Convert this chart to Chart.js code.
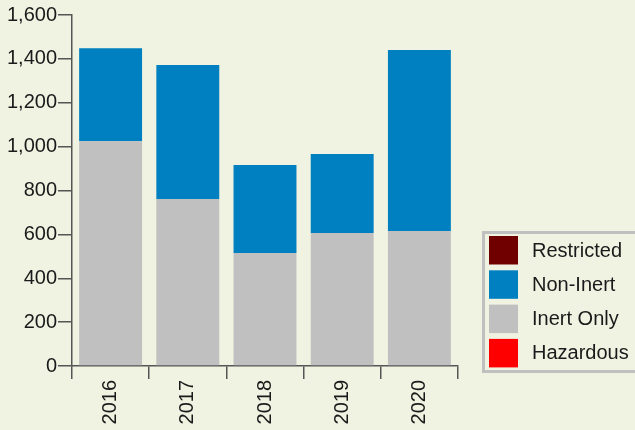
<!DOCTYPE html>
<html>
<head>
<meta charset="utf-8">
<script src="https://cdn.jsdelivr.net/npm/chart.js@4/dist/chart.umd.min.js"></script>
<style>
    html, body { margin: 0; padding: 0; background: #f0f2e2; }
    #wrap { width: 635px; height: 430px; }
</style>
</head>
<body>
<div id="wrap"><canvas id="chart" width="635" height="430"></canvas></div>
<script>
let years = ["2016", "2017", "2018", "2019", "2020"];
let hazardous = [0, 0, 0, 0, 0];
let inertOnly = [1025, 761, 515, 606, 615];
let nonInert = [424, 611, 401, 360, 825];
let restricted = [0, 0, 0, 0, 0];

const fontFamily = "'Liberation Sans', Arial, sans-serif";
const axisColor = "#555555";
const textColor = "#1a1a1a";

// legend drawn by hand in a grey framed box, top series first
const boxLegend = {
    id: "boxLegend",
    afterDraw(chart) {
        const ctx = chart.ctx;
        const x = 482, y = 231, w = 160, h = 142;
        ctx.save();
        ctx.strokeStyle = "#c0c0c0";
        ctx.lineWidth = 3;
        ctx.strokeRect(x + 1.5, y + 1.5, w - 3, h - 3);
        ctx.font = "20px " + fontFamily;
        ctx.textBaseline = "middle";
        ctx.fillStyle = textColor;
        const items = chart.data.datasets.slice().reverse();
        items.forEach((ds, i) => {
            const top = y + 5 + i * 34.3;
            ctx.fillStyle = ds.backgroundColor;
            ctx.fillRect(x + 7, top, 29, 28.5);
            ctx.fillStyle = textColor;
            ctx.fillText(ds.label, x + 50, top + 15);
        });
        ctx.restore();
    }
};

new Chart(document.getElementById("chart"), {
    type: "bar",
    data: {
        labels: years,
        datasets: [
            { label: "Hazardous", data: hazardous, backgroundColor: "#ff0000" },
            { label: "Inert Only", data: inertOnly, backgroundColor: "#c0c0c0" },
            { label: "Non-Inert", data: nonInert, backgroundColor: "#0080c0" },
            { label: "Restricted", data: restricted, backgroundColor: "#700000" }
        ]
    },
    options: {
        responsive: false,
        animation: false,
        layout: { padding: { top: 15, right: 177, left: 0, bottom: 0 } },
        datasets: {
            bar: { categoryPercentage: 0.815, barPercentage: 1, borderWidth: 0 }
        },
        plugins: {
            legend: { display: false },
            tooltip: { enabled: false }
        },
        scales: {
            x: {
                stacked: true,
                afterFit: s => { s.height = 64; },
                border: { color: axisColor, width: 1.5 },
                grid: { offset: true, drawOnChartArea: false, color: axisColor, tickLength: 13, lineWidth: 1.5 },
                ticks: {
                    minRotation: 90, maxRotation: 90, padding: 1,
                    color: textColor, font: { family: fontFamily, size: 20 }
                }
            },
            y: {
                stacked: true,
                min: 0, max: 1600,
                afterFit: s => { s.width = 72; },
                border: { color: axisColor, width: 1.5 },
                grid: { drawOnChartArea: false, color: axisColor, tickLength: 14, lineWidth: 1.5 },
                ticks: {
                    stepSize: 200, padding: 1,
                    color: textColor, font: { family: fontFamily, size: 20 },
                    callback: v => v.toLocaleString("en-US")
                }
            }
        }
    },
    plugins: [boxLegend]
});
</script>
</body>
</html>
